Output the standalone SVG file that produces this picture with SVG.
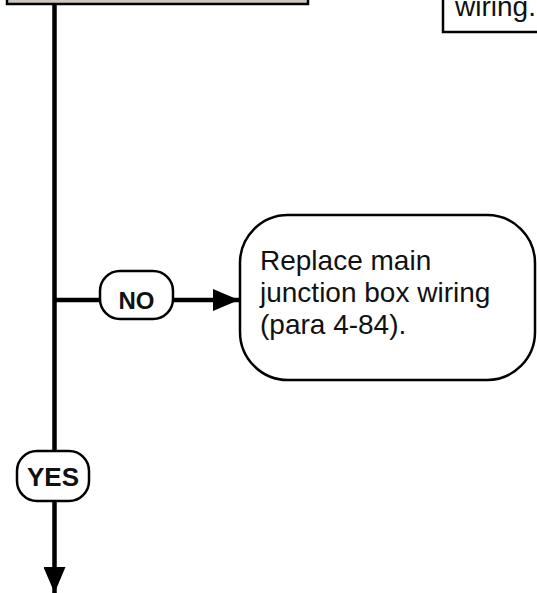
<svg xmlns="http://www.w3.org/2000/svg" width="537" height="593" viewBox="0 0 537 593">
<style>
.box{fill:#ffffff;stroke:#000000;stroke-width:2.5}
.txt{font-family:"Liberation Sans",Arial,Helvetica,sans-serif;font-size:28px;fill:#111111}
.lbl{font-family:"Liberation Sans",Arial,Helvetica,sans-serif;font-weight:bold;fill:#111111;text-anchor:middle}
.line{stroke:#000000;stroke-width:4.5;fill:none}
</style>
<defs>
<marker id="ah" viewBox="0 0 26 22" refX="26" refY="11" markerWidth="26" markerHeight="22" markerUnits="userSpaceOnUse" orient="auto">
<path d="M0,0 L26,11 L0,22 Z" fill="#000000"/>
</marker>
</defs>
<rect width="537" height="593" fill="#ffffff"/>
<g id="connectors">
<line class="line" x1="54.5" y1="4" x2="54.5" y2="593" marker-end="url(#ah)"/>
<line class="line" x1="54.5" y1="300" x2="239" y2="300" marker-end="url(#ah)"/>
</g>
<g id="node-top-left">
<rect x="7" y="-20" width="301" height="24" fill="#cdc5bd" stroke="#000000" stroke-width="2.5"/>
</g>
<g id="node-top-right">
<rect class="box" x="443" y="-20" width="110" height="52"/>
<text class="txt" x="455" y="16">wiring.</text>
</g>
<g id="node-no">
<rect class="box" x="100" y="271" width="73" height="48" rx="20" ry="20"/>
<text class="lbl" x="136.5" y="308.5" font-size="24">NO</text>
</g>
<g id="node-replace">
<rect class="box" x="240" y="215" width="295" height="165" rx="48" ry="48"/>
<text class="txt" x="260" y="270">Replace main</text>
<text class="txt" x="260" y="302">junction box wiring</text>
<text class="txt" x="260" y="334">(para 4-84).</text>
</g>
<g id="node-yes">
<rect class="box" x="17" y="451" width="72" height="50" rx="20" ry="20"/>
<text class="lbl" x="53" y="486" font-size="26">YES</text>
</g>
</svg>
